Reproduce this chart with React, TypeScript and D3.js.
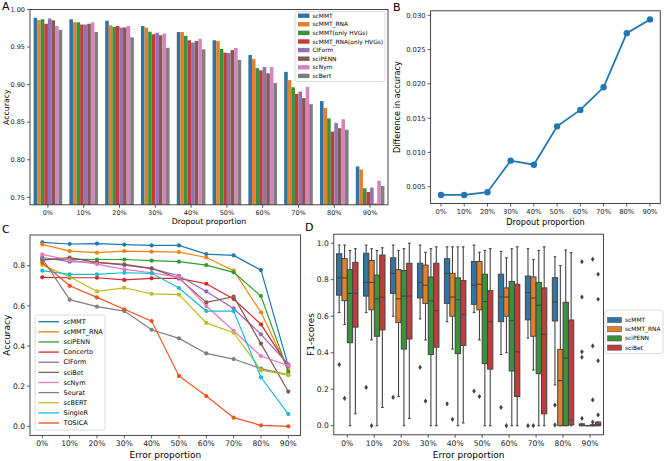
import React from "react";
import * as d3 from "d3";

const W = 665;
const H = 461;
const FONT = "'DejaVu Sans', sans-serif";

// ---------- shared categories ----------
const proportions = ["0%", "10%", "20%", "30%", "40%", "50%", "60%", "70%", "80%", "90%"];

// ---------- Panel A : accuracy vs dropout proportion ----------
const methodsA = ["scMMT", "scMMT_RNA", "scMMT(only HVGs)", "scMMT_RNA(only HVGs)", "CIForm", "sciPENN", "scNym", "scBert"];
const accA_scMMT = [0.989, 0.987, 0.985, 0.978, 0.970, 0.959, 0.9395, 0.917, 0.878, 0.791];
const accA_scMMT_RNA = [0.986, 0.983, 0.979, 0.976, 0.970, 0.958, 0.934, 0.906, 0.869, 0.787];
const accA_scMMT_HVG = [0.987, 0.983, 0.977, 0.9705, 0.965, 0.9475, 0.922, 0.8965, 0.855, 0.762];
const accA_scMMT_RNA_HVG = [0.981, 0.980, 0.978, 0.967, 0.959, 0.9425, 0.919, 0.8876, 0.8375, 0.757];
const accA_CIForm = [0.988, 0.980, 0.976, 0.969, 0.956, 0.942, 0.9235, 0.8907, 0.849, 0.763];
const accA_sciPENN = [0.9856, 0.981, 0.976, 0.9657, 0.958, 0.946, 0.915, 0.882, 0.842, 0.7418];
const accA_scNym = [0.978, 0.983, 0.978, 0.968, 0.961, 0.9488, 0.9235, 0.897, 0.854, 0.772];
const accA_scBert = [0.973, 0.970, 0.963, 0.949, 0.947, 0.933, 0.902, 0.874, 0.840, 0.765];
const seriesA = [accA_scMMT, accA_scMMT_RNA, accA_scMMT_HVG, accA_scMMT_RNA_HVG, accA_CIForm, accA_sciPENN, accA_scNym, accA_scBert];
const colorsA = ["#3274a1", "#e1812c", "#3a923a", "#c03d3e", "#9372b2", "#845b53", "#d684bd", "#7f7f7f"];
const ticksA = [0.75, 0.80, 0.85, 0.90, 0.95, 1.00];

// ---------- Panel B : difference in accuracy ----------
const diffB = [0.0038, 0.0038, 0.0042, 0.0088, 0.0082, 0.0138, 0.0162, 0.0195, 0.0274, 0.0294];
const ticksB = [0.005, 0.010, 0.015, 0.020, 0.025, 0.030];

// ---------- Panel C : accuracy vs error proportion ----------
const methodsC = ["scMMT", "scMMT_RNA", "sciPENN", "Concerto", "CIForm", "sciBet", "scNym", "Seurat", "scBERT", "SingleR", "TOSICA"];
const accC_scMMT = [0.916, 0.908, 0.910, 0.905, 0.901, 0.901, 0.858, 0.851, 0.778, 0.300];
const accC_scMMT_RNA = [0.906, 0.873, 0.865, 0.873, 0.870, 0.868, 0.841, 0.775, 0.568, 0.280];
const accC_sciPENN = [0.831, 0.833, 0.831, 0.831, 0.825, 0.820, 0.803, 0.767, 0.649, 0.270];
const accC_Concerto = [0.742, 0.740, 0.740, 0.729, 0.737, 0.737, 0.710, 0.634, 0.508, 0.300];
const accC_CIForm = [0.841, 0.820, 0.817, 0.803, 0.785, 0.750, 0.672, 0.587, 0.458, 0.309];
const accC_sciBet = [0.828, 0.840, 0.817, 0.807, 0.787, 0.737, 0.617, 0.646, 0.412, 0.173];
const accC_scNym = [0.856, 0.828, 0.808, 0.782, 0.765, 0.742, 0.599, 0.476, 0.350, 0.302];
const accC_Seurat = [0.836, 0.631, 0.596, 0.574, 0.481, 0.438, 0.363, 0.335, 0.287, 0.256];
const accC_scBERT = [0.803, 0.745, 0.672, 0.690, 0.660, 0.656, 0.515, 0.466, 0.280, 0.255];
const accC_SingleR = [0.775, 0.757, 0.757, 0.765, 0.762, 0.689, 0.574, 0.574, 0.244, 0.061];
const accC_TOSICA = [0.815, 0.700, 0.642, 0.583, 0.524, 0.251, 0.151, 0.043, 0.005, 0.000];
const seriesC = [accC_scMMT, accC_scMMT_RNA, accC_sciPENN, accC_Concerto, accC_CIForm, accC_sciBet, accC_scNym, accC_Seurat, accC_scBERT, accC_SingleR, accC_TOSICA];
const colorsC = ["#1f77b4", "#ff7f0e", "#2ca02c", "#d62728", "#9467bd", "#8c564b", "#e377c2", "#7f7f7f", "#bcbd22", "#17becf", "#f4511e"];
const ticksC = [0.0, 0.2, 0.4, 0.6, 0.8];

// ---------- Panel D : F1-score boxplots ----------
const methodsD = ["scMMT", "scMMT_RNA", "sciPENN", "sciBet"];
// [lower whisker, q1, median, q3, upper whisker]
const boxD_scMMT = [
  [0.62, 0.715, 0.81, 0.942, 0.99], [0.62, 0.71, 0.785, 0.945, 0.99], [0.60, 0.725, 0.835, 0.92, 0.99],
  [0.585, 0.70, 0.785, 0.89, 0.99], [0.57, 0.67, 0.835, 0.915, 0.98], [0.62, 0.665, 0.77, 0.90, 0.99],
  [0.39, 0.57, 0.705, 0.83, 0.955], [0.48, 0.58, 0.73, 0.82, 0.97], [0.223, 0.574, 0.678, 0.811, 0.926],
  [0.0, 0.0, 0.002, 0.01, 0.01],
];
const boxD_scMMT_RNA = [
  [0.555, 0.685, 0.81, 0.915, 0.99], [0.47, 0.635, 0.785, 0.905, 0.97], [0.16, 0.565, 0.695, 0.855, 0.96],
  [0.47, 0.67, 0.77, 0.88, 0.95], [0.42, 0.60, 0.705, 0.835, 0.98], [0.47, 0.635, 0.775, 0.90, 0.95],
  [0.40, 0.60, 0.705, 0.755, 0.92], [0.305, 0.49, 0.70, 0.815, 0.91], [0.0, 0.0, 0.247, 0.418, 0.877],
  [0.0, 0.0, 0.0, 0.0, 0.0],
];
const boxD_sciPENN = [
  [0.0, 0.455, 0.725, 0.855, 0.96], [0.0, 0.49, 0.695, 0.825, 0.96], [0.0, 0.42, 0.71, 0.85, 0.97],
  [0.0, 0.39, 0.685, 0.815, 0.97], [0.0, 0.395, 0.69, 0.81, 0.98], [0.0, 0.34, 0.68, 0.83, 0.96],
  [0.0, 0.30, 0.575, 0.79, 0.97], [0.0, 0.285, 0.66, 0.785, 0.96], [0.0, 0.0, 0.371, 0.676, 0.963],
  [0.0, 0.0, 0.0, 0.005, 0.005],
];
const boxD_sciBet = [
  [0.065, 0.54, 0.725, 0.895, 0.97], [0.10, 0.525, 0.705, 0.935, 0.975], [0.04, 0.475, 0.71, 0.89, 1.0],
  [0.0, 0.43, 0.63, 0.89, 0.98], [0.015, 0.44, 0.61, 0.795, 0.98], [0.0, 0.31, 0.57, 0.74, 0.97],
  [0.0, 0.16, 0.405, 0.775, 0.98], [0.0, 0.065, 0.50, 0.755, 0.98], [0.0, 0.005, 0.031, 0.579, 0.948],
  [0.0, 0.0, 0.005, 0.02, 0.02],
];
const fliersD_scMMT = [[0.335], [0.21], [0.155], [0.32], [0.12], [0.19], [0.10], [0.0], [0.113, 0.004], [0.899, 0.705, 0.405, 0.375, 0.04]];
const fliersD_scMMT_RNA = [[0.15], [0.0], [], [0.135], [0.035], [0.16], [0.0], [0.0], [], []];
const fliersD_sciPENN = [[], [], [], [], [], [], [], [], [], [0.912, 0.437, 0.141, 0.02]];
const fliersD_sciBet = [[], [], [], [], [], [], [], [], [], [0.83, 0.693, 0.356, 0.059]];
const boxesD = [boxD_scMMT, boxD_scMMT_RNA, boxD_sciPENN, boxD_sciBet];
const fliersD = [fliersD_scMMT, fliersD_scMMT_RNA, fliersD_sciPENN, fliersD_sciBet];
const colorsD = ["#3274a1", "#e1812c", "#3a923a", "#c03d3e"];
const ticksD = [0.0, 0.2, 0.4, 0.6, 0.8, 1.0];

const AX = "#333333";

function Frame({ x0, x1, y0, y1 }: { x0: number; x1: number; y0: number; y1: number }) {
  return <rect x={x0} y={y0} width={x1 - x0} height={y1 - y0} fill="none" stroke={AX} strokeWidth={0.9} />;
}

function YTicks({ ticks, scale, x, fs, fmt }: any) {
  return (
    <g>
      {ticks.map((t: number) => (
        <g key={t}>
          <line x1={x - 3} x2={x} y1={scale(t)} y2={scale(t)} stroke={AX} strokeWidth={0.8} />
          <text x={x - 5} y={scale(t)} dy="0.35em" textAnchor="end" fontSize={fs} fill="#222">
            {fmt(t)}
          </text>
        </g>
      ))}
    </g>
  );
}

function XTicks({ cats, pos, y, fs, labelY }: any) {
  return (
    <g>
      {cats.map((c: string) => (
        <g key={c}>
          <line x1={pos(c)} x2={pos(c)} y1={y} y2={y + 3} stroke={AX} strokeWidth={0.8} />
          <text x={pos(c)} y={labelY} dy="0.35em" textAnchor="middle" fontSize={fs} fill="#222">
            {c}
          </text>
        </g>
      ))}
    </g>
  );
}

function PanelA() {
  const x0 = 30, x1 = 388, yTop = 9.5, yBot = 204.8;
  const xA = d3.scaleBand<string>().domain(proportions).range([x0, x1]).paddingInner(0.2).paddingOuter(0.1);
  const xIn = d3.scaleBand<string>().domain(methodsA).range([0, xA.bandwidth()]);
  const yA = d3.scaleLinear().domain([0.74, 1.0]).range([yBot, yTop]);
  const center = (c: string) => (xA(c) as number) + xA.bandwidth() / 2;
  return (
    <g>
      {methodsA.map((m, mi) =>
        seriesA[mi].map((v, i) => (
          <rect
            key={m + i}
            x={(xA(proportions[i]) as number) + (xIn(m) as number)}
            y={yA(v)}
            width={xIn.bandwidth()}
            height={yA(0.74) - yA(v)}
            fill={colorsA[mi]}
          />
        ))
      )}
      <Frame x0={x0} x1={x1} y0={yTop} y1={yBot} />
      <YTicks ticks={ticksA} scale={yA} x={x0} fs={6.5} fmt={d3.format(".2f")} />
      <XTicks cats={proportions} pos={center} y={yBot} fs={6.5} labelY={212.5} />
      <text x={(x0 + x1) / 2} y={221.5} dy="0.35em" textAnchor="middle" fontSize={7.8}>Dropout proportion</text>
      <text transform={`translate(6,${(yTop + yBot) / 2}) rotate(-90)`} dy="0.35em" textAnchor="middle" fontSize={7.8}>Accuracy</text>
      {/* legend */}
      <rect x={295} y={11.5} width={90} height={70} rx={2} fill="white" fillOpacity={0.85} stroke="#cccccc" strokeWidth={0.7} />
      {methodsA.map((m, i) => (
        <g key={m}>
          <rect x={298} y={15.7 + i * 8.6 - 2.2} width={11.5} height={4.4} fill={colorsA[i]} />
          <text x={312.5} y={15.7 + i * 8.6} dy="0.35em" fontSize={5.9}>{m}</text>
        </g>
      ))}
      <text x={2} y={10} fontSize={11}>A</text>
    </g>
  );
}

function PanelB() {
  const x0 = 430.6, x1 = 660.3, yTop = 10.8, yBot = 203.5;
  const xB = d3.scalePoint<string>().domain(proportions).range([441, 650]);
  const yB = d3.scaleLinear().domain([0.005, 0.030]).range([186.7, 15.3]);
  const line = d3.line<number>().x((_, i) => xB(proportions[i]) as number).y((d) => yB(d));
  return (
    <g>
      <path d={line(diffB) as string} fill="none" stroke="#1f77b4" strokeWidth={1.8} />
      {diffB.map((v, i) => (
        <circle key={i} cx={xB(proportions[i])} cy={yB(v)} r={3.2} fill="#1f77b4" />
      ))}
      <Frame x0={x0} x1={x1} y0={yTop} y1={yBot} />
      <YTicks ticks={ticksB} scale={yB} x={x0} fs={6.8} fmt={d3.format(".3f")} />
      <XTicks cats={proportions} pos={(c: string) => xB(c)} y={yBot} fs={6.8} labelY={211.5} />
      <text x={(x0 + x1) / 2} y={221.8} dy="0.35em" textAnchor="middle" fontSize={8.2}>Dropout proportion</text>
      <text transform={`translate(397,${(yTop + yBot) / 2}) rotate(-90)`} dy="0.35em" textAnchor="middle" fontSize={8.2}>Difference in accuracy</text>
      <text x={393} y={11} fontSize={11}>B</text>
    </g>
  );
}

function PanelC() {
  const x0 = 30, x1 = 300.6, yTop = 235, yBot = 435.4;
  const xC = d3.scalePoint<string>().domain(proportions).range([42.3, 288.3]);
  const yC = d3.scaleLinear().domain([0, 0.8]).range([426.3, 265.7]);
  const line = d3.line<number>().x((_, i) => xC(proportions[i]) as number).y((d) => yC(d));
  const ly = 321.7, lstep = 10.13;
  return (
    <g>
      {methodsC.map((m, mi) => (
        <g key={m}>
          <path d={line(seriesC[mi]) as string} fill="none" stroke={colorsC[mi]} strokeWidth={1.2} />
          {seriesC[mi].map((v, i) => (
            <circle key={i} cx={xC(proportions[i])} cy={yC(v)} r={2.1} fill={colorsC[mi]} />
          ))}
        </g>
      ))}
      <Frame x0={x0} x1={x1} y0={yTop} y1={yBot} />
      <YTicks ticks={ticksC} scale={yC} x={x0} fs={7.6} fmt={d3.format(".1f")} />
      <XTicks cats={proportions} pos={(c: string) => xC(c)} y={yBot} fs={7.6} labelY={443.3} />
      <text x={(x0 + x1) / 2} y={455} dy="0.35em" textAnchor="middle" fontSize={9}>Error proportion</text>
      <text transform={`translate(7,${(yTop + yBot) / 2}) rotate(-90)`} dy="0.35em" textAnchor="middle" fontSize={9}>Accuracy</text>
      <rect x={35} y={315} width={70} height={115} rx={2} fill="white" fillOpacity={0.85} stroke="#cccccc" strokeWidth={0.7} />
      {methodsC.map((m, i) => (
        <g key={m}>
          <line x1={38.5} x2={59} y1={ly + i * lstep} y2={ly + i * lstep} stroke={colorsC[i]} strokeWidth={1.3} />
          <text x={63.5} y={ly + i * lstep} dy="0.35em" fontSize={6.5}>{m}</text>
        </g>
      ))}
      <text x={2} y={233} fontSize={11}>C</text>
    </g>
  );
}

function PanelD() {
  const x0 = 333.8, x1 = 603.5, yTop = 234.2, yBot = 434.8;
  const xD = d3.scaleBand<string>().domain(proportions).range([x0, x1]).paddingInner(0.2).paddingOuter(0.1);
  const xIn = d3.scaleBand<string>().domain(methodsD).range([0, xD.bandwidth()]);
  const yD = d3.scaleLinear().domain([0, 1]).range([425.7, 243.2]);
  const center = (c: string) => (xD(c) as number) + xD.bandwidth() / 2;
  const bw = xIn.bandwidth() * 0.98;
  const LC = "#444444";
  return (
    <g>
      {methodsD.map((m, mi) =>
        boxesD[mi].map((b, i) => {
          const cx = (xD(proportions[i]) as number) + (xIn(m) as number) + xIn.bandwidth() / 2;
          const [lo, q1, med, q3, hi] = b;
          return (
            <g key={m + i}>
              <line x1={cx} x2={cx} y1={yD(q3)} y2={yD(hi)} stroke={LC} strokeWidth={1.1} />
              <line x1={cx} x2={cx} y1={yD(q1)} y2={yD(lo)} stroke={LC} strokeWidth={1.1} />
              <line x1={cx - bw / 4} x2={cx + bw / 4} y1={yD(hi)} y2={yD(hi)} stroke={LC} strokeWidth={1.1} />
              <line x1={cx - bw / 4} x2={cx + bw / 4} y1={yD(lo)} y2={yD(lo)} stroke={LC} strokeWidth={1.1} />
              <rect x={cx - bw / 2} y={yD(q3)} width={bw} height={Math.max(yD(q1) - yD(q3), 0)} fill={colorsD[mi]} stroke={LC} strokeWidth={1} />
              <line x1={cx - bw / 2} x2={cx + bw / 2} y1={yD(med)} y2={yD(med)} stroke={LC} strokeWidth={1.1} />
              {fliersD[mi][i].map((f, k) => (
                <path key={k} d={`M${cx},${yD(f) - 2.6}L${cx + 1.8},${yD(f)}L${cx},${yD(f) + 2.6}L${cx - 1.8},${yD(f)}Z`} fill={LC} />
              ))}
            </g>
          );
        })
      )}
      <Frame x0={x0} x1={x1} y0={yTop} y1={yBot} />
      <YTicks ticks={ticksD} scale={yD} x={x0} fs={7.6} fmt={d3.format(".1f")} />
      <XTicks cats={proportions} pos={center} y={yBot} fs={7.6} labelY={443.3} />
      <text x={(x0 + x1) / 2} y={455} dy="0.35em" textAnchor="middle" fontSize={9}>Error proportion</text>
      <text transform={`translate(311,${(yTop + yBot) / 2}) rotate(-90)`} dy="0.35em" textAnchor="middle" fontSize={9}>F1-scores</text>
      <rect x={605} y={310} width={58} height={43.5} rx={2} fill="white" stroke="#cccccc" strokeWidth={0.7} />
      {methodsD.map((m, i) => (
        <g key={m}>
          <rect x={607.5} y={320 + i * 9.2 - 2.6} width={14} height={5.2} fill={colorsD[i]} stroke={LC} strokeWidth={0.5} />
          <text x={625} y={320 + i * 9.2} dy="0.35em" fontSize={5.9}>{m}</text>
        </g>
      ))}
      <text x={305} y={231} fontSize={11}>D</text>
    </g>
  );
}

export default function App() {
  return (
    <svg width={W} height={H} viewBox={`0 0 ${W} ${H}`} style={{ position: "absolute", left: 0, top: 0, background: "white" }} fontFamily={FONT}>
      <rect width={W} height={H} fill="white" />
      <PanelA />
      <PanelB />
      <PanelC />
      <PanelD />
    </svg>
  );
}
